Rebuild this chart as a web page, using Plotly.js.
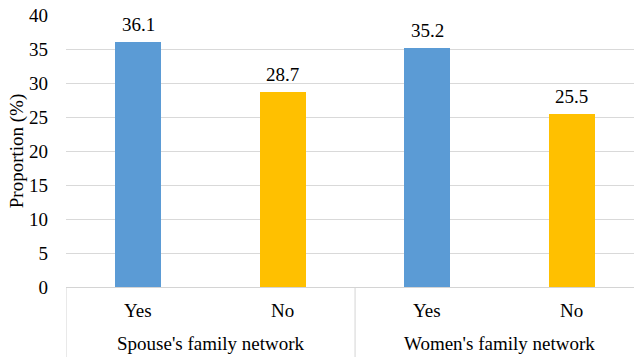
<!DOCTYPE html>
<html>
<head>
<meta charset="utf-8">
<script src="https://cdn.plot.ly/plotly-3.0.1.min.js"></script>
<style>
html,body{margin:0;padding:0;background:#fff;}
#chart{width:634px;height:357px;}
</style>
</head>
<body>
<div id="chart"></div>
<script>
const categories = ["Yes", "No", "Yes", "No"];
const groups = ["Spouse's family network", "Women's family network"];
const values = [36.1, 28.7, 35.2, 25.5];
const barColors = ["#5B9BD5", "#FFC000", "#5B9BD5", "#FFC000"];
const yTicks = [0, 5, 10, 15, 20, 25, 30, 35, 40];

const font = "Liberation Serif";
const fs = 19;
const xs = categories.map((_, i) => i);

const trace = {
  type: "bar",
  x: xs,
  y: values,
  width: 0.32,
  marker: {color: barColors},
  hoverinfo: "skip"
};

const annotations = [];
values.forEach((v, i) => {
  annotations.push({x: i, xref: "x", y: v, yref: "y", text: v.toFixed(1), showarrow: false,
    yanchor: "bottom", yshift: 5, font: {family: font, size: fs, color: "#000"}});
});
categories.forEach((c, i) => {
  annotations.push({x: i, xref: "x", y: -0.088, yref: "paper", text: c, showarrow: false,
    yanchor: "middle", font: {family: font, size: fs, color: "#000"}});
});
groups.forEach((g, gi) => {
  annotations.push({x: gi * 2 + 0.5, xref: "x", y: -0.209, yref: "paper", text: g, showarrow: false,
    yanchor: "middle", font: {family: font, size: fs, color: "#000"}});
});

const shapes = [];
[-0.5, 1.5, 3.5].forEach(xv => {
  shapes.push({type: "line", xref: "x", yref: "paper", x0: xv, x1: xv, y0: 0, y1: -0.27,
    line: {color: "#d4d4d4", width: 1}});
});

const layout = {
  width: 634, height: 357,
  font: {family: font},
  margin: {l: 66, r: 0, t: 15, b: 70},
  paper_bgcolor: "#fff", plot_bgcolor: "#fff",
  showlegend: false,
  bargap: 0,
  xaxis: {range: [-0.5, 3.43], showticklabels: false, ticks: "", showgrid: false, zeroline: false,
    showline: true, linecolor: "#d4d4d4", linewidth: 1, fixedrange: true},
  yaxis: {range: [0, 40], tickvals: yTicks, ticktext: yTicks.map(String), ticks: "",
    showgrid: true, gridcolor: "#d9d9d9", gridwidth: 1, zeroline: false, showline: false,
    tickfont: {family: font, size: fs, color: "#000"}, ticklabelstandoff: 17,
    title: {text: "Proportion (%)", font: {family: font, size: fs, color: "#000"}, standoff: 0},
    fixedrange: true},
  annotations: annotations,
  shapes: shapes
};

Plotly.newPlot("chart", [trace], layout, {displayModeBar: false, staticPlot: true});
</script>
</body>
</html>
